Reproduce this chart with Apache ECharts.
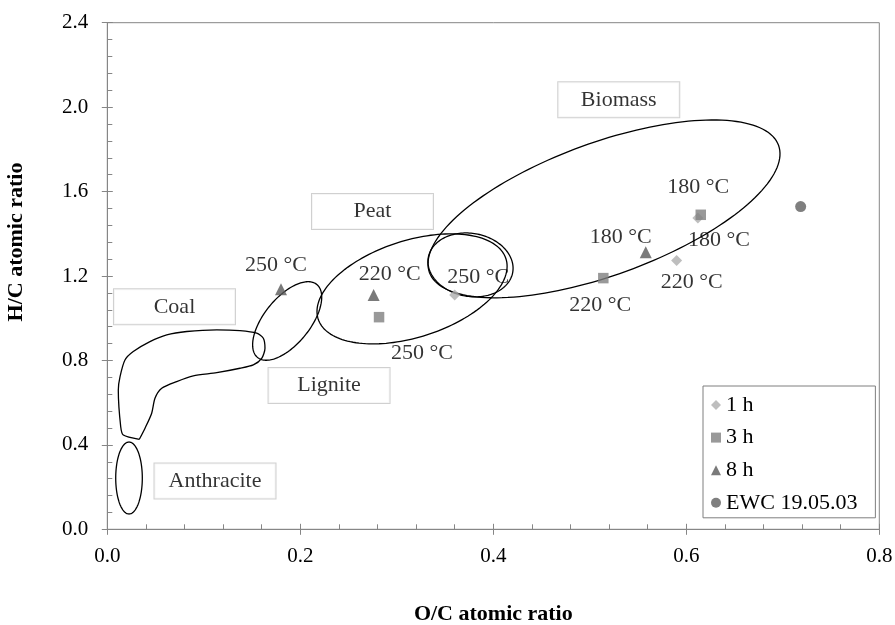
<!DOCTYPE html>
<html><head><meta charset="utf-8">
<script src="https://cdn.jsdelivr.net/npm/echarts@6/dist/echarts.min.js"></script>
<style>html,body{margin:0;padding:0;background:#fff}#c{width:895px;height:625px}</style>
</head><body><div id="c"></div>
<script>
// ---- data ----
const seriesNames = ['1 h', '3 h', '8 h', 'EWC 19.05.03'];
const oc1h = [0.360, 0.590, 0.612];
const hc1h = [1.11, 1.273, 1.475];
const temp1h = ['250 °C', '220 °C', '180 °C'];
const oc3h = [0.2816, 0.514, 0.615];
const hc3h = [1.005, 1.19, 1.49];
const temp3h = ['250 °C', '220 °C', '180 °C'];
const oc8h = [0.180, 0.276, 0.558];
const hc8h = [1.137, 1.11, 1.313];
const temp8h = ['250 °C', '220 °C', '180 °C'];
const ocEWC = [0.7185];
const hcEWC = [1.529];

const regionNames = ['Coal', 'Anthracite', 'Lignite', 'Peat', 'Biomass'];
const regionLabelOC = [0.0696, 0.1116, 0.2298, 0.2748, 0.530];
const regionLabelHC = [1.054, 0.229, 0.6815, 1.506, 2.035];

// region ellipses: centre (O/C, H/C), semi-axes in O/C units, tilt in degrees
const ellipseOC = [0.0225, 0.1864, 0.3158, 0.3764, 0.5147];
const ellipseHC = [0.243, 0.987, 1.139, 1.2526, 1.518];
const ellipseA = [0.01378, 0.0487, 0.1022, 0.0444, 0.1925];
const ellipseB = [0.0373, 0.0238, 0.0501, 0.0327, 0.0686];
const ellipseTilt = [0, 51, 17.8, -10, 20];

// coal region outline
const coalOC = [0.0332, 0.0166, 0.0139, 0.0114, 0.0132, 0.0183, 0.0269, 0.0442, 0.0616, 0.0823, 0.1134, 0.1375, 0.1548, 0.1617, 0.1634, 0.160, 0.1513, 0.1375, 0.1134, 0.0891, 0.0719, 0.0564, 0.0494, 0.046, 0.0391, 0.0332];
const coalHC = [0.4265, 0.447, 0.486, 0.660, 0.723, 0.802, 0.842, 0.889, 0.921, 0.937, 0.945, 0.941, 0.929, 0.905, 0.858, 0.810, 0.779, 0.763, 0.742, 0.727, 0.700, 0.668, 0.621, 0.550, 0.479, 0.4265];

// ---- layout (label offsets in px) ----
const off1h = [[23.5, -17.5], [15, 22], [21, 22]];
const off3h = [[43, 36], [-3, 27], [-2.5, -28]];
const off8h = [[-5, -24], [16, -21], [-25, -15]];

const FONT = 'Liberation Serif';
const AX = '#868686';

function pts(oc, hc, temps, offs) {
  return oc.map((v, i) => ({
    value: [v, hc[i]],
    label: temps ? {show: true, position: 'inside', offset: offs[i], formatter: temps[i]} : {show: false}
  }));
}
const ptLabel = {color: '#000', fontSize: 22, fontFamily: FONT};

const chart = echarts.init(document.getElementById('c'), null, {renderer: 'canvas'});
chart.setOption({
  animation: false,
  backgroundColor: '#fff',
  grid: {left: 107.3, right: 15.7, top: 22.7, bottom: 95.7, show: true, borderColor: AX, borderWidth: 1,
         containLabel: false, outerBoundsMode: 'none'},
  legend: {
    orient: 'vertical', left: 703, top: 386,
    padding: [7, 18, 3, 8], itemGap: 8.6, itemWidth: 10, itemHeight: 10,
    borderColor: '#7f7f7f', borderWidth: 1, backgroundColor: '#fff',
    textStyle: {fontSize: 22, fontFamily: FONT, color: '#000', lineHeight: 24},
    data: [
      {name: seriesNames[0], icon: 'diamond'},
      {name: seriesNames[1], icon: 'rect'},
      {name: seriesNames[2], icon: 'triangle'},
      {name: seriesNames[3], icon: 'circle'}
    ]
  },
  xAxis: [{
    type: 'value', min: 0, max: 0.8, interval: 0.2, position: 'bottom',
    axisLine: {show: true, lineStyle: {color: AX, width: 1}},
    axisTick: {show: true, inside: true, length: 5.5, lineStyle: {color: AX}},
    minorTick: {show: true, splitNumber: 5, length: 5, lineStyle: {color: AX}},
    splitLine: {show: false},
    axisLabel: {formatter: v => v.toFixed(1), fontSize: 21, fontFamily: FONT, color: '#000', margin: 17},
    name: 'O/C atomic ratio', nameLocation: 'middle', nameGap: 74,
    nameTextStyle: {fontWeight: 'bold', fontSize: 22, fontFamily: FONT, color: '#000'}
  }, {
    type: 'value', min: 0, max: 0.8, interval: 0.2, position: 'bottom',
    axisLine: {show: false},
    axisTick: {show: true, inside: false, length: 5.5, lineStyle: {color: AX}},
    axisLabel: {show: false}, splitLine: {show: false}
  }],
  yAxis: [{
    type: 'value', min: 0, max: 2.4, interval: 0.4, position: 'left',
    axisLine: {show: true, lineStyle: {color: AX, width: 1}},
    axisTick: {show: true, inside: true, length: 5.5, lineStyle: {color: AX}},
    minorTick: {show: true, splitNumber: 5, length: 5, lineStyle: {color: AX}},
    splitLine: {show: false},
    axisLabel: {formatter: v => v.toFixed(1), fontSize: 21, fontFamily: FONT, color: '#000', margin: 19},
    name: 'H/C atomic ratio', nameLocation: 'middle', nameGap: 80,
    nameTextStyle: {fontWeight: 'bold', fontSize: 22, fontFamily: FONT, color: '#000', padding: [0, 0, 0, 68]}
  }, {
    type: 'value', min: 0, max: 2.4, interval: 0.4, position: 'left',
    axisLine: {show: false},
    axisTick: {show: true, inside: false, length: 5.5, lineStyle: {color: AX}},
    axisLabel: {show: false}, splitLine: {show: false}
  }],
  series: [
    {
      type: 'line', name: 'coal-outline', xAxisIndex: 0, yAxisIndex: 0,
      data: coalOC.map((v, i) => [v, coalHC[i]]),
      showSymbol: false, symbol: 'none', smooth: 0.25,
      lineStyle: {color: '#000', width: 1.3}, silent: true, z: 2
    },
    {
      type: 'custom', name: 'regions', xAxisIndex: 0, yAxisIndex: 0,
      data: ellipseOC.map((v, i) => [v, ellipseHC[i], ellipseA[i], ellipseB[i], ellipseTilt[i]]),
      encode: {x: 0, y: 1},
      silent: true, z: 2,
      renderItem: function (params, api) {
        const c = api.coord([api.value(0), api.value(1)]);
        const s = api.size([1, 1]);
        const a = api.value(2) * s[0], b = api.value(3) * s[0];
        const th = api.value(4) * Math.PI / 180;
        const p = [];
        for (let i = 0; i < 160; i++) {
          const t = i / 160 * 2 * Math.PI;
          const ex = a * Math.cos(t), ey = b * Math.sin(t);
          p.push([c[0] + ex * Math.cos(th) - ey * Math.sin(th), c[1] - (ex * Math.sin(th) + ey * Math.cos(th))]);
        }
        return {type: 'polygon', shape: {points: p}, style: {fill: 'none', stroke: '#000', lineWidth: 1.3}};
      }
    },
    {
      type: 'scatter', name: 'region-labels', xAxisIndex: 0, yAxisIndex: 0,
      data: regionLabelOC.map((v, i) => [v, regionLabelHC[i]]),
      symbol: 'rect', symbolSize: 1, silent: true, z: 3,
      itemStyle: {color: 'rgba(0,0,0,0)'},
      label: {
        show: true, position: 'inside', formatter: p => regionNames[p.dataIndex],
        color: '#000', fontSize: 22, fontFamily: FONT,
        width: 121, height: 35, lineHeight: 35, align: 'center', verticalAlign: 'middle',
        backgroundColor: '#fff', borderColor: '#c4c4c4', borderWidth: 1, padding: 0
      }
    },
    {
      type: 'scatter', name: seriesNames[0], xAxisIndex: 0, yAxisIndex: 0,
      symbol: 'diamond', symbolSize: 11, z: 5,
      itemStyle: {color: '#aeaeae'}, label: ptLabel,
      data: pts(oc1h, hc1h, temp1h, off1h)
    },
    {
      type: 'scatter', name: seriesNames[1], xAxisIndex: 0, yAxisIndex: 0,
      symbol: 'rect', symbolSize: 10.5, z: 6,
      itemStyle: {color: '#808080'}, label: ptLabel,
      data: pts(oc3h, hc3h, temp3h, off3h)
    },
    {
      type: 'scatter', name: seriesNames[2], xAxisIndex: 0, yAxisIndex: 0,
      symbol: 'triangle', symbolSize: 12, z: 7,
      itemStyle: {color: '#595959'}, label: ptLabel,
      data: pts(oc8h, hc8h, temp8h, off8h)
    },
    {
      type: 'scatter', name: seriesNames[3], xAxisIndex: 0, yAxisIndex: 0,
      symbol: 'circle', symbolSize: 11, z: 8,
      itemStyle: {color: '#5f5f5f'},
      data: pts(ocEWC, hcEWC, null, null)
    }
  ]
});
</script></body></html>
